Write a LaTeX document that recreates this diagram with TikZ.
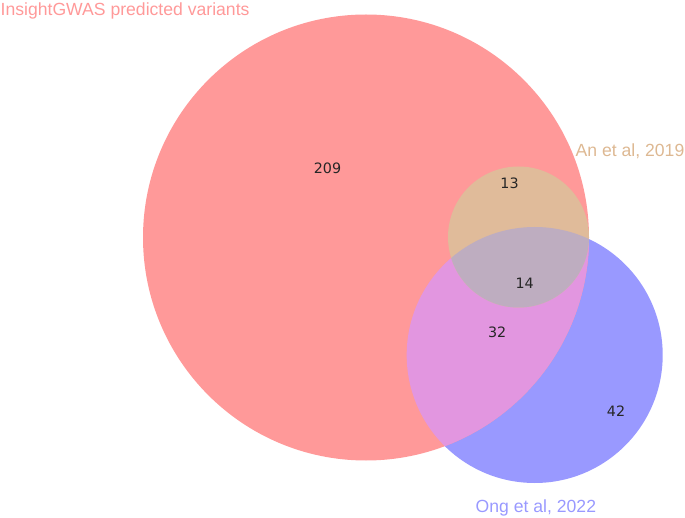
\documentclass[tikz,border=0pt]{standalone}
\usepackage{fontspec}
\setmainfont{Liberation Sans}
\newfontfamily\numfont{DejaVu Sans}
\definecolor{redonly}{HTML}{FF9999}
\definecolor{blueonly}{HTML}{9999FF}
\definecolor{redtan}{HTML}{E0BB9A}
\definecolor{redblue}{HTML}{E296E0}
\definecolor{triple}{HTML}{BEADC0}
\definecolor{tanlabel}{HTML}{DDB892}
\definecolor{numcol}{HTML}{262626}
\tikzset{
  setlabel/.style={inner sep=0pt, anchor=base west, font=\fontsize{17.6}{20}\selectfont},
  countlabel/.style={inner sep=0pt, text=numcol, font=\numfont\fontsize{14.3}{16}\selectfont}
}
\begin{document}
\begin{tikzpicture}[x=1pt,y=-1pt]
\useasboundingbox (0,0) rectangle (685,518);
% circles
\fill[blueonly] (534.7,355) circle[radius=128pt];
\fill[redonly] (366,237.5) circle[radius=223pt];
\begin{scope}
  \clip (366,237.5) circle[radius=223pt];
  \fill[redblue] (534.7,355) circle[radius=128pt];
  \fill[redtan] (518.5,237) circle[radius=70.5pt];
  \clip (534.7,355) circle[radius=128pt];
  \fill[triple] (518.5,237) circle[radius=70.5pt];
\end{scope}
% set labels
\node[setlabel, text=redonly] (lA) at (0.5,16) {InsightGWAS predicted variants};
\node[setlabel, text=tanlabel] (lB) at (575.5,156.5) {An et al, 2019};
\node[setlabel, text=blueonly] (lC) at (475.5,512.5) {Ong et al, 2022};
% counts
\node[countlabel] (n209) at (327.5,168) {209};
\node[countlabel] (n13) at (509.5,183) {13};
\node[countlabel] (n14) at (524.7,283.7) {14};
\node[countlabel] (n32) at (497.2,332) {32};
\node[countlabel] (n42) at (616,410.7) {42};
\end{tikzpicture}
\end{document}
